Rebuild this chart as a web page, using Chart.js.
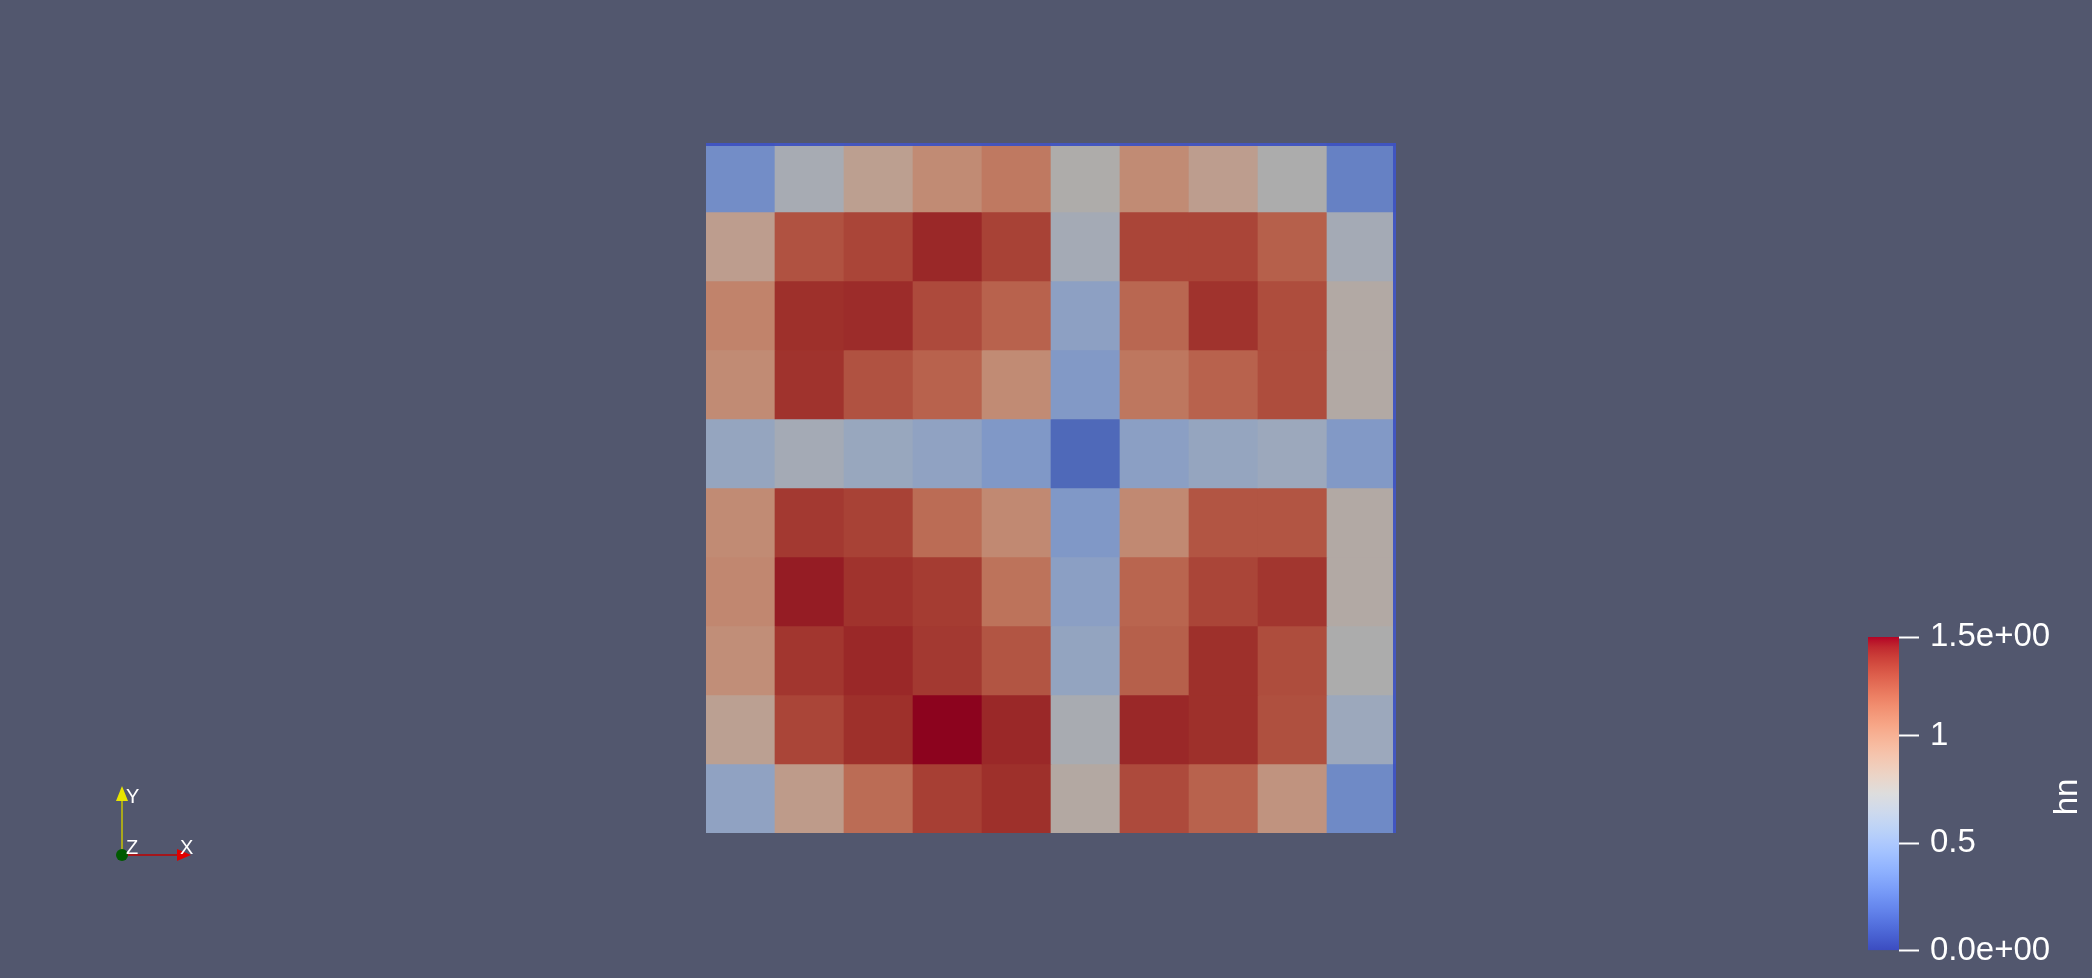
<!DOCTYPE html>
<html>
<head>
<meta charset="utf-8">
<script src="https://cdn.jsdelivr.net/npm/chart.js@4.4.1/dist/chart.umd.min.js"></script>
<style>
  html, body { margin: 0; padding: 0; background: #52576E; overflow: hidden; }
  #main { position: absolute; left: 0; top: 0; }
  #bar { position: absolute; left: 1850px; top: 600px; }
</style>
</head>
<body>
<canvas id="main" width="2092" height="978"></canvas>
<canvas id="bar" width="242" height="378"></canvas>
<script>
// ---------------- DATA ----------------
const columns = ['0','1','2','3','4','5','6','7','8','9'];
const rows = ['0','1','2','3','4','5','6','7','8','9']; // top to bottom
const hnValues = [
  [0.39, 0.69, 0.87, 1.00, 1.09, 0.74, 1.00, 0.88, 0.73, 0.32],
  [0.88, 1.25, 1.30, 1.39, 1.31, 0.67, 1.30, 1.30, 1.20, 0.67],
  [1.04, 1.37, 1.38, 1.28, 1.19, 0.53, 1.17, 1.36, 1.27, 0.77],
  [1.00, 1.36, 1.25, 1.19, 1.00, 0.47, 1.10, 1.19, 1.27, 0.77],
  [0.58, 0.67, 0.60, 0.55, 0.46, 0.20, 0.52, 0.58, 0.62, 0.47],
  [1.00, 1.34, 1.31, 1.15, 1.01, 0.46, 1.01, 1.24, 1.24, 0.77],
  [1.02, 1.42, 1.36, 1.33, 1.12, 0.52, 1.18, 1.30, 1.35, 0.77],
  [0.98, 1.35, 1.39, 1.34, 1.24, 0.57, 1.20, 1.37, 1.27, 0.73],
  [0.86, 1.30, 1.37, 1.46, 1.39, 0.70, 1.39, 1.37, 1.26, 0.62],
  [0.55, 0.90, 1.15, 1.32, 1.37, 0.78, 1.28, 1.19, 0.95, 0.37]
];
const rangeMin = 0.0;
const rangeMax = 1.46;
const colorbarTicks = [0, 0.5, 1, 1.46];
const colorbarLabels = ['0.0e+00', '0.5', '1', '1.5e+00'];
const colorbarTitle = 'hn';
const axisLabels = ['X', 'Y', 'Z'];

// ---------------- STYLE ----------------
const COOLWARM = [
  [59,76,192],[68,90,204],[77,104,215],[87,117,225],[98,130,234],[108,142,241],
  [119,154,247],[130,165,251],[141,176,254],[152,185,255],[163,194,255],[174,201,253],
  [184,208,249],[194,213,244],[204,217,238],[213,219,230],[221,221,221],[229,216,209],
  [236,211,197],[241,204,185],[245,196,173],[247,187,160],[247,177,148],[247,166,135],
  [244,154,123],[241,141,111],[236,127,99],[229,112,88],[222,96,77],[213,80,66],
  [203,62,56],[192,40,47],[180,4,38]
];
const SHADE = 0.78;
const WHITE = '#ffffff';
const FONT = "'Liberation Sans', Arial, sans-serif";

function cmapRGB(v) {
  let t = (v - rangeMin) / (rangeMax - rangeMin);
  t = Math.max(0, Math.min(1, t));
  const p = t * (COOLWARM.length - 1);
  const i = Math.min(Math.floor(p), COOLWARM.length - 2);
  const f = p - i;
  const a = COOLWARM[i], b = COOLWARM[i + 1];
  return [0,1,2].map(k => a[k] + (b[k] - a[k]) * f);
}
function cellColor(v) {
  const c = cmapRGB(v).map(x => Math.round(x * SHADE));
  return `rgb(${c[0]},${c[1]},${c[2]})`;
}

// ---------------- HEATMAP ----------------
const nRows = rows.length;
const datasets = rows.map((r, ri) => ({
  label: 'row ' + r,
  data: columns.map(() => [nRows - 1 - ri, nRows - ri]),
  backgroundColor: hnValues[ri].map(cellColor),
  borderWidth: 0,
  barPercentage: 1.0,
  categoryPercentage: 1.0,
  grouped: false
}));

const overlayPlugin = {
  id: 'overlay',
  afterDatasetsDraw(chart) {
    const ctx = chart.ctx, a = chart.chartArea;
    ctx.save();
    ctx.fillStyle = 'rgba(62,82,192,0.95)';
    ctx.fillRect(a.left, a.top, a.right - a.left, 3);
    ctx.fillRect(a.right - 3, a.top, 3, a.bottom - a.top);
    ctx.restore();
  },
  afterDraw(chart) {
    // orientation axes glyph
    const ctx = chart.ctx;
    const ox = 122, oy = 855;
    ctx.save();
    ctx.lineWidth = 1.5;
    ctx.strokeStyle = '#c8c400';
    ctx.beginPath(); ctx.moveTo(ox, oy); ctx.lineTo(ox, 800); ctx.stroke();
    ctx.fillStyle = '#e8e400';
    ctx.beginPath(); ctx.moveTo(ox - 6, 801); ctx.lineTo(ox + 6, 801); ctx.lineTo(ox, 786); ctx.closePath(); ctx.fill();
    ctx.strokeStyle = '#c00000';
    ctx.beginPath(); ctx.moveTo(ox, oy); ctx.lineTo(178, oy); ctx.stroke();
    ctx.fillStyle = '#e00000';
    ctx.beginPath(); ctx.moveTo(177, oy - 6); ctx.lineTo(177, oy + 6); ctx.lineTo(191, oy); ctx.closePath(); ctx.fill();
    ctx.fillStyle = '#005a00';
    ctx.beginPath(); ctx.arc(ox, oy, 6, 0, Math.PI * 2); ctx.fill();
    ctx.fillStyle = WHITE;
    ctx.font = '20px ' + FONT;
    ctx.textBaseline = 'alphabetic';
    ctx.textAlign = 'left';
    ctx.fillText(axisLabels[1], 126, 803);
    ctx.fillText(axisLabels[2], 126, 854);
    ctx.fillText(axisLabels[0], 180, 854);
    ctx.restore();
  }
};

new Chart(document.getElementById('main'), {
  type: 'bar',
  data: { labels: columns, datasets },
  options: {
    responsive: false,
    animation: false,
    devicePixelRatio: 1,
    layout: { padding: { left: 706, top: 143, right: 696, bottom: 145 } },
    plugins: { legend: { display: false }, tooltip: { enabled: false } },
    scales: {
      x: { display: false, offset: true },
      y: { display: false, min: 0, max: nRows }
    }
  },
  plugins: [overlayPlugin]
});

// ---------------- COLORBAR ----------------
const titlePlugin = {
  id: 'cbtitle',
  afterDraw(chart) {
    const ctx = chart.ctx;
    ctx.save();
    ctx.translate(218, 197);
    ctx.rotate(-Math.PI / 2);
    ctx.fillStyle = WHITE;
    ctx.font = '33px ' + FONT;
    ctx.textAlign = 'center';
    ctx.textBaseline = 'middle';
    ctx.fillText(colorbarTitle, 0, 0);
    ctx.restore();
  }
};

new Chart(document.getElementById('bar'), {
  type: 'bar',
  data: {
    labels: [colorbarTitle],
    datasets: [{
      data: [[rangeMin, rangeMax]],
      borderWidth: 0,
      barPercentage: 1.0,
      categoryPercentage: 1.0,
      backgroundColor(context) {
        const chart = context.chart;
        const a = chart.chartArea;
        if (!a) return 'rgba(0,0,0,0)';
        const g = chart.ctx.createLinearGradient(0, a.bottom, 0, a.top);
        COOLWARM.forEach((c, i) => g.addColorStop(i / (COOLWARM.length - 1), `rgb(${c[0]},${c[1]},${c[2]})`));
        return g;
      }
    }]
  },
  options: {
    responsive: false,
    animation: false,
    devicePixelRatio: 1,
    layout: { padding: { left: 18, top: 37, bottom: 19, right: 0 } },
    plugins: { legend: { display: false }, tooltip: { enabled: false } },
    scales: {
      x: { display: false },
      y: {
        position: 'right',
        min: rangeMin,
        max: rangeMax,
        afterBuildTicks(scale) { scale.ticks = colorbarTicks.map(v => ({ value: v })); },
        afterFit(scale) { scale.width = 193; },
        border: { display: false },
        grid: { drawOnChartArea: false, drawTicks: true, tickLength: 20, tickColor: WHITE, tickWidth: 2 },
        ticks: {
          color: WHITE,
          padding: 11,
          font: { family: FONT, size: 33, lineHeight: 1.0 },
          callback(value, index) { return colorbarLabels[index]; }
        }
      }
    }
  },
  plugins: [titlePlugin]
});
</script>
</body>
</html>
